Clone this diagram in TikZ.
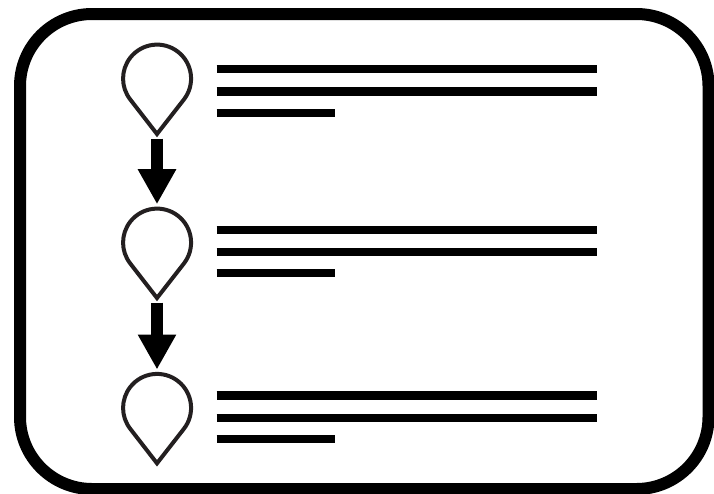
\documentclass[tikz,border=0pt]{standalone}
\usepackage{xcolor}
\usepackage{tikz}
\usetikzlibrary{arrows.meta, positioning, calc}
\definecolor{dropink}{HTML}{231F20}

\begin{document}
\begin{tikzpicture}[
      x=1pt, y=1pt,
      bead/.style={circle, draw=none, minimum size=68pt, inner sep=0pt, outer sep=0pt},
      dropline/.style={draw=dropink, line width=4pt, line join=miter},
      textbar/.style={line width=8.3pt, black},
      flow/.style={-{Triangle[width=36pt, length=35pt]}, line width=12.5pt, black, shorten <=4.5pt, shorten >=4.5pt}
    ]
    \useasboundingbox (0,0) rectangle (714,-493);

    % Outer rounded frame
    \draw[line width=12pt, rounded corners=72pt] (20,-14) rectangle (708.5,-489);

    % Drop markers
    \node[bead] (d1) at (157,-78.7) {};
    \node[bead, below=96pt of d1] (d2) {};
    \node[bead, below=97.3pt of d2] (d3) {};
    \foreach \i in {1,2,3} {
      \coordinate (t\i) at ($(d\i)+(0,-55.3)$);
      \draw[dropline] (d\i.-38.2) arc[start angle=-38.2, end angle=218.2, radius=34pt] -- (t\i) -- cycle;
    }

    % Text bars
    \foreach \a/\b/\c in {69/91.5/113, 229.8/251.8/273.2, 395.5/418/439} {
      \draw[textbar] (216.7,-\a) -- (597,-\a);
      \draw[textbar] (216.7,-\b) -- (597,-\b);
      \draw[textbar] (216.7,-\c) -- (335,-\c);
    }

    % Flow arrows
    \draw[flow] (t1) -- (d2.north);
    \draw[flow] (t2) -- (d3.north);
  \end{tikzpicture}
\end{document}
